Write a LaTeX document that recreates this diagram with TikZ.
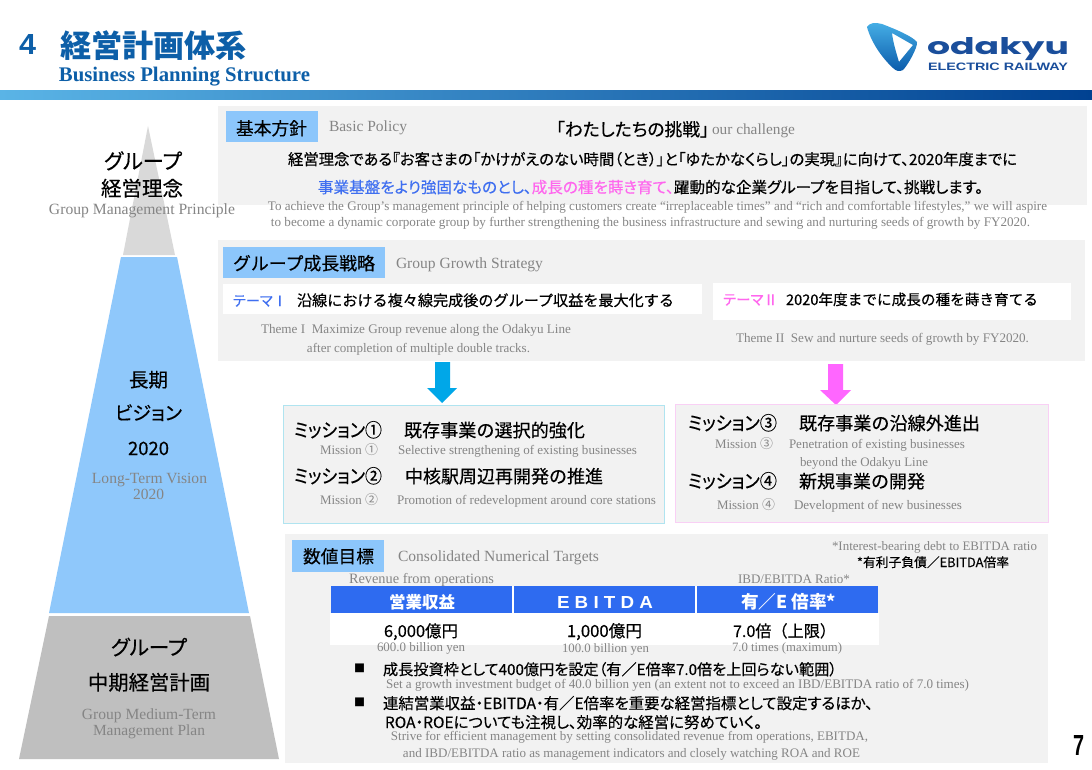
\documentclass[tikz,border=0pt]{standalone}
\usepackage{graphicx}
\usepackage{fontspec}
\setmainfont{Liberation Serif}
\newfontfamily\jpf{Noto Sans CJK JP}
\newfontfamily\jpm[FakeBold=0.35]{Noto Sans CJK JP}
\newfontfamily\jpp[FakeBold=0.35,RawFeature=+palt]{Noto Sans CJK JP}
\newfontfamily\sansf{Liberation Sans}
\definecolor{panel}{HTML}{F2F2F2}
\definecolor{lab}{HTML}{8CC6FB}
\definecolor{engray}{HTML}{858585}
\definecolor{navy}{HTML}{0D5FA8}
\definecolor{bluetx}{HTML}{3F6FF0}
\definecolor{pinktx}{HTML}{FF66EE}
\definecolor{hdr}{HTML}{2E6BF0}
\definecolor{logoblue}{HTML}{1A4E9B}
\tikzset{
  txt/.style={inner sep=0pt,anchor=base},
  jpplain/.style={txt,font=\jpf,text=black},
  jpr/.style={txt,font=\jpm,text=black},
  jpq/.style={txt,font=\jpp,text=black},
  en/.style={txt,font=\rmfamily,text=engray},
  panelbox/.style={fill=panel},
  labelbox/.style={fill=lab},
  whitebox/.style={fill=white}
}
% name, left x, right x, baseline y, style, text: text fitted to the reference's extent
\newcommand{\fw}[6]{%
  \pgfmathsetmacro{\midx}{(#2+#3)/2}%
  \pgfmathsetmacro{\wid}{(#3-#2)*0.75}%
  \node[#5] (#1) at (\midx,#4) {\resizebox{\wid pt}{!}{#6}};}
% same, with the height fixed as well
\newcommand{\fh}[7]{%
  \pgfmathsetmacro{\midx}{(#2+#3)/2}%
  \pgfmathsetmacro{\wid}{(#3-#2)*0.75}%
  \pgfmathsetmacro{\hei}{#7*0.75}%
  \node[#5] (#1) at (\midx,#4) {\resizebox{\wid pt}{\hei pt}{#6}};}
\begin{document}
\begin{tikzpicture}[x=0.75pt,y=-0.75pt]
\useasboundingbox (0,0) rectangle (1092,770);
\fill[white] (0,0) rectangle (1092,770);
% header bar
\shade[left color={rgb,255:red,90;green,180;blue,230}, middle color={rgb,255:red,0;green,120;blue,190}, right color={rgb,255:red,0;green,65;blue,145}] (0,91) rectangle (1092,100);
% title
\fh{n4}{19}{36}{55}{txt,font=\sansf\bfseries,text=navy}{4}{20}
\fw{ntitle}{60}{247}{58}{txt,font=\jpf\bfseries,text=navy}{経営計画体系}
\fw{nbus}{59}{310}{82}{txt,font=\rmfamily\bfseries,text=navy}{Business Planning Structure}
% logo
\shade[top color={rgb,255:red,70;green,175;blue,230}, bottom color={rgb,255:red,10;green,90;blue,170}, even odd rule]
  (867,27) .. controls (869,23) and (875,22) .. (882,24) .. controls (895,29) and (912,36) .. (917,42)
  .. controls (918,47) and (908,65) .. (903,70) .. controls (899,72) and (896,71) .. (893,68)
  .. controls (882,58) and (871,42) .. (867,27) -- cycle
  (892,33) -- (913,45) -- (899,62) .. controls (896,52) and (893,42) .. (892,33) -- cycle;
\fh{nodakyu}{927}{1069}{55}{txt,font=\fontspec{Poppins}\bfseries,text=logoblue}{odakyu}{17}
\fh{nrail}{928}{1068}{71}{txt,font=\sansf\bfseries,text=logoblue}{ELECTRIC RAILWAY}{7.5}
% pyramid
\fill[fill={rgb,255:red,217;green,217;blue,217}] (148,126) -- (175,255) -- (123,255) -- cycle;
\fill[fill={rgb,255:red,143;green,200;blue,251}] (121,257) -- (177,257) -- (249,613) -- (49,613) -- cycle;
\fill[fill={rgb,255:red,191;green,191;blue,191}] (49,616) -- (250,616) -- (279,759) -- (19,759) -- cycle;
% panels
\fill[panelbox] (218,106) rectangle (1087,205);
\fill[labelbox] (226,111) rectangle (318,142);
\fill[panelbox] (218,240) rectangle (1085,361);
\fill[labelbox] (223,247) rectangle (385,278);
\fill[whitebox] (223,284) rectangle (702,314);
\fill[whitebox] (713,283) rectangle (1071,320);
% arrows
\fill[fill={rgb,255:red,0;green,167;blue,232}] (435,362) -- (450,362) -- (450,388) -- (457,388) -- (442,403) -- (427,388) -- (435,388) -- cycle;
\fill[fill={rgb,255:red,255;green,102;blue,255}] (828,364) -- (843,364) -- (843,390) -- (851,390) -- (836,405) -- (820,390) -- (828,390) -- cycle;
% mission boxes
\filldraw[fill=panel,draw={rgb,255:red,176;green,228;blue,240},line width=0.6pt] (283,405) rectangle (664,523);
\filldraw[fill=panel,draw={rgb,255:red,249;green,208;blue,245},line width=0.6pt] (675,404) rectangle (1048,522);
% targets panel
\fill[panelbox] (285,534) rectangle (1048,763);
\fill[labelbox] (292,540) rectangle (384,572);
\fill[whitebox] (330,613) rectangle (879,645);
\fill[fill=hdr] (331,586) rectangle (878,613);
\draw[white,line width=0.8pt] (513,586) -- (513,613) (696,586) -- (696,613);
% pyramid texts
\fw{p1}{104}{182}{169}{jpq}{グループ}
\fw{p2}{101}{183}{196}{jpr}{経営理念}
\fw{p3}{49}{235}{214}{en}{Group Management Principle}
\fw{p4}{129}{168}{387}{jpr}{長期}
\fw{p5}{115}{182}{420}{jpq}{ビジョン}
\fw{p6}{128}{169}{455}{jpr}{2020}
\fw{p7}{92}{207}{483}{en}{Long-Term Vision}
\fw{p8}{133}{164}{499}{en}{2020}
\fw{p9}{111}{187}{655}{jpq}{グループ}
\fw{p10}{88}{210}{690}{jpr}{中期経営計画}
\fw{p11}{82}{216}{719}{en}{Group Medium-Term}
\fw{p12}{93}{205}{735}{en}{Management Plan}
% basic policy
\fw{a1}{236}{307}{135}{jpr}{基本方針}
\fw{a2}{329}{407}{132}{en}{Basic Policy}
\fw{a3}{556}{709}{136}{jpq}{「わたしたちの挑戦」}
\fw{a4}{712}{795}{135}{en}{our challenge}
\fw{a5}{288}{1017}{165}{jpq}{経営理念である『お客さまの「かけがえのない時間（とき）」と「ゆたかなくらし」の実現』に向けて、2020年度までに}
\fw{a6}{318}{983}{193}{jpq}{\textcolor{bluetx}{事業基盤をより強固なものとし、}\textcolor{pinktx}{成長の種を蒔き育て、}躍動的な企業グループを目指して、挑戦します。}
\fw{a7}{268}{1047}{210}{en}{To achieve the Group’s management principle of helping customers create “irreplaceable times” and “rich and comfortable lifestyles,” we will aspire}
\fw{a8}{271}{1030}{226}{en}{to become a  dynamic corporate group by further strengthening the business infrastructure and sewing and nurturing seeds of growth by FY2020.}
% growth strategy
\fw{b1}{233}{375}{270}{jpr}{グループ成長戦略}
\fw{b2}{396}{543}{268}{en}{Group Growth Strategy}
\fw{b3}{233}{287}{306}{jpq,text=bluetx}{テーマⅠ}
\fw{b4}{297}{674}{306}{jpr}{沿線における複々線完成後のグループ収益を最大化する}
\fw{b5}{261}{571}{333}{en}{Theme I\ \ Maximize Group revenue along the Odakyu Line}
\fw{b6}{307}{530}{352}{en}{after completion of multiple double tracks.}
\fw{b7}{723}{778}{305}{jpq,text=pinktx}{テーマⅡ}
\fw{b8}{786}{1038}{305}{jpr}{2020年度までに成長の種を蒔き育てる}
\fw{b9}{736}{1029}{342}{en}{Theme II\ \ Sew and nurture seeds of growth by FY2020.}
% missions
\fh{m1}{294}{382}{437}{jpq}{ミッション①}{16}
\fw{m2}{404}{585}{437}{jpr}{既存事業の選択的強化}
\fw{m3}{320}{378}{454}{en}{Mission {\jpf ①}}
\fw{m4}{398}{637}{454}{en}{Selective strengthening of existing businesses}
\fh{m5}{294}{382}{483}{jpq}{ミッション②}{16}
\fw{m6}{405}{603}{483}{jpr}{中核駅周辺再開発の推進}
\fw{m7}{320}{378}{504}{en}{Mission {\jpf ②}}
\fw{m8}{397}{656}{504}{en}{Promotion of redevelopment around core stations}
\fh{m9}{688}{777}{430}{jpq}{ミッション③}{16}
\fw{m10}{799}{980}{430}{jpr}{既存事業の沿線外進出}
\fw{m11}{715}{773}{448}{en}{Mission {\jpf ③}}
\fw{m12}{789}{965}{448}{en}{Penetration of existing businesses}
\fw{m13}{800}{928}{466}{en}{beyond the Odakyu Line}
\fh{m14}{688}{777}{488}{jpq}{ミッション④}{16}
\fw{m15}{799}{925}{488}{jpr}{新規事業の開発}
\fw{m16}{717}{775}{509}{en}{Mission {\jpf ④}}
\fw{m17}{794}{962}{509}{en}{Development of new businesses}
% targets
\fw{t1}{303}{374}{563}{jpr}{数値目標}
\fw{t2}{398}{599}{561}{en}{Consolidated Numerical Targets}
\fw{t3}{832}{1037}{550}{en}{*Interest-bearing debt to EBITDA ratio}
\fw{t4}{857}{1009}{567}{jpr}{*有利子負債／EBITDA倍率}
\fw{t5}{349}{494}{583}{en}{Revenue from operations}
\fw{t6}{738}{850}{583}{en}{IBD/EBITDA Ratio*}
\fw{t7}{389}{455}{608}{txt,font=\jpf\bfseries,text=white}{営業収益}
\fh{t8}{557}{653}{608}{txt,font=\sansf\bfseries,text=white}{E\ B\ I\ T\ D\ A}{12}
\fw{t9}{741}{836}{608}{txt,font=\jpf\bfseries,text=white}{有／E 倍率*}
\fw{t10}{384}{458}{637}{jpr}{6,000億円}
\fw{t11}{567}{642}{637}{jpr}{1,000億円}
\fw{t12}{733}{836}{637}{jpr}{7.0倍（上限）}
\fw{t13}{377}{465}{651}{en}{600.0 billion yen}
\fw{t14}{562}{649}{652}{en}{100.0 billion yen}
\fw{t15}{732}{842}{651}{en}{7.0 times (maximum)}
% notes
\fw{u0}{354}{365}{672}{jpplain}{■}
\fw{u1}{383}{837}{675}{jpq}{成長投資枠として400億円を設定（有／E倍率7.0倍を上回らない範囲）}
\fw{u2}{386}{969}{688}{en}{Set a growth investment budget of 40.0 billion yen (an extent not to exceed an IBD/EBITDA ratio of 7.0 times)}
\fw{u3}{354}{365}{706}{jpplain}{■}
\fw{u4}{383}{873}{709}{jpq}{連結営業収益・EBITDA・有／E倍率を重要な経営指標として設定するほか、}
\fw{u5}{385}{762}{728}{jpq}{ROA・ROEについても注視し、効率的な経営に努めていく。}
\fw{u6}{391}{868}{740}{en}{Strive for efficient management by setting consolidated revenue from operations, EBITDA,}
\fw{u7}{403}{860}{757}{en}{and IBD/EBITDA ratio as management indicators and closely watching ROA and ROE}
\fh{pg}{1073}{1084}{755}{txt,font=\sansf\bfseries,text=black}{7}{20}
\end{tikzpicture}
\end{document}
